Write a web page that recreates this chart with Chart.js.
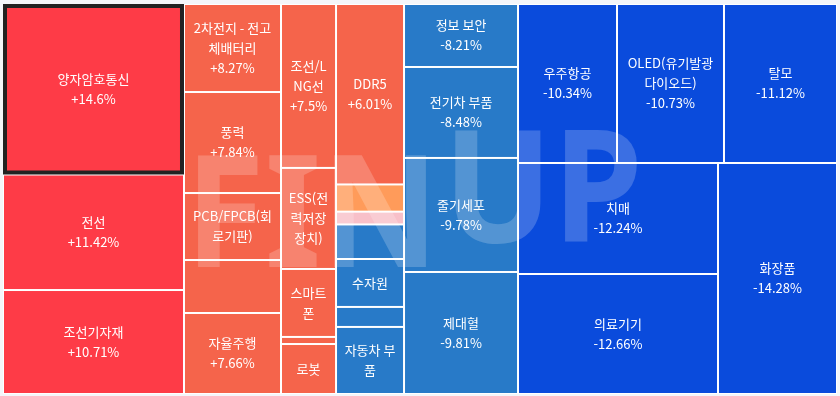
<!DOCTYPE html>
<html lang="ko">
<head>
    <meta charset="UTF-8">
    <script src="https://cdn.jsdelivr.net/npm/chart.js@4.4.1/dist/chart.umd.min.js"></script>
    <style>
        body {
            margin: 0;
            background: #f4f6fa;
        }

        canvas {
            display: block;
        }
    </style>
    <title>Theme Treemap</title>
</head>
<body>
    <canvas id="treemap" width="840" height="396"></canvas>

    <script>
        // themes in the order they were laid out (change descending)
        const names = [
            '양자암호통신', '전선', '조선기자재',
            '2차전지 - 전고체배터리', '풍력', 'PCB/FPCB(회로기판)', '', '자율주행',
            '조선/LNG선', 'ESS(전력저장장치)', '스마트폰', '', '로봇',
            'DDR5', '', '', '', '수자원', '', '자동차 부품',
            '정보 보안', '전기차 부품', '줄기세포', '제대혈',
            '우주항공', 'OLED(유기발광다이오드)', '탈모',
            '치매', '의료기기', '화장품'
        ];
        // % change; hidden ones are estimates
        const changes = [
            14.6, 11.42, 10.71,
            8.27, 7.84, 7.7, 7.68, 7.66,
            7.5, 7.3, 6.9, 6.5, 6.2,
            6.01, 4.2, 1.1, -5.5, -6.3, -7.0, -7.8,
            -8.21, -8.48, -9.78, -9.81,
            -10.34, -10.73, -11.12,
            -12.24, -12.66, -14.28
        ];
        // cell weights
        const sizes = [
            308.6, 209.1, 188.2,
            85.4, 98.0, 65.0, 51.4, 78.6,
            90.2, 55.6, 37.4, 3.9, 27.5,
            122.7, 18.5, 8.7, 23.5, 32.6, 13.6, 45.6,
            71.8, 103.7, 130.0, 139.1,
            157.4, 170.1, 179.7,
            222.0, 240.0, 274.9
        ];
        const highlighted = 0;

        function colorFor(v) {
            if (v >= 10) return '#fe3b47';
            if (v >= 5) return '#f5644b';
            if (v >= 2) return '#ff9b5a';
            if (v >= 0) return '#f8c0c9';
            if (v > -10) return '#287ac8';
            return '#0a4bdc';
        }

        // same idea as d3 squarify with the golden ratio
        function squarify(vals, x0, y0, x1, y1) {
            const ratio = (1 + Math.sqrt(5)) / 2;
            const out = [];
            const n = vals.length;
            let value = vals.reduce((a, b) => a + b, 0);
            let i0 = 0, i1 = 0;
            while (i0 < n) {
                const dx = x1 - x0, dy = y1 - y0;
                let sum = vals[i1++];
                let minV = sum, maxV = sum;
                const alpha = Math.max(dy / dx, dx / dy) / (value * ratio);
                let beta = sum * sum * alpha;
                let minRatio = Math.max(maxV / beta, beta / minV);
                for (; i1 < n; ++i1) {
                    const v = vals[i1];
                    sum += v;
                    if (v < minV) minV = v;
                    if (v > maxV) maxV = v;
                    beta = sum * sum * alpha;
                    const r = Math.max(maxV / beta, beta / minV);
                    if (r > minRatio) { sum -= v; break; }
                    minRatio = r;
                }
                if (dx < dy) {
                    const h = dy * sum / value;
                    let x = x0;
                    for (let i = i0; i < i1; i++) {
                        const w = dx * vals[i] / sum;
                        out[i] = [x, y0, x + w, y0 + h];
                        x += w;
                    }
                    y0 += h;
                } else {
                    const w = dx * sum / value;
                    let y = y0;
                    for (let i = i0; i < i1; i++) {
                        const h = dy * vals[i] / sum;
                        out[i] = [x0, y, x0 + w, y + h];
                        y += h;
                    }
                    x0 += w;
                }
                value -= sum;
                i0 = i1;
            }
            return out;
        }

        function wrapText(ctx, text, maxWidth) {
            const lines = [];
            let line = '';
            for (const ch of text) {
                const test = line + ch;
                if (line && ctx.measureText(test).width > maxWidth) {
                    lines.push(line);
                    line = ch === ' ' ? '' : ch;
                } else {
                    line = test;
                }
            }
            if (line) lines.push(line);
            return lines;
        }

        function drawMark(ctx, text, x, y) {
            ctx.save();
            ctx.translate(x, y);
            ctx.scale(0.93, 1);
            ctx.fillText(text, 0, 0);
            ctx.restore();
        }

        const treemapPlugin = {
            id: 'treemap',
            beforeDatasetsDraw(chart) {
                const ctx = chart.ctx;
                const area = chart.chartArea;
                const xs = chart.scales.x;
                const ys = chart.scales.y;
                const aspect = area.width / area.height;
                const rects = squarify(sizes, 0, 0, aspect, 1);

                ctx.save();
                ctx.fillStyle = '#ffffff';
                ctx.fillRect(area.left, area.top, area.width, area.height);

                const boxes = rects.map(r => ({
                    x0: xs.getPixelForValue(r[0] / aspect),
                    y0: ys.getPixelForValue(r[1]),
                    x1: xs.getPixelForValue(r[2] / aspect),
                    y1: ys.getPixelForValue(r[3])
                }));

                boxes.forEach((b, i) => {
                    ctx.fillStyle = colorFor(changes[i]);
                    ctx.fillRect(b.x0 + 1, b.y0 + 1, b.x1 - b.x0 - 2, b.y1 - b.y0 - 2);
                });

                // watermark: FIN low, UP raised
                ctx.fillStyle = 'rgba(255, 255, 255, 0.2)';
                ctx.font = 'bold 156px "Noto Sans"';
                ctx.textAlign = 'left';
                ctx.textBaseline = 'alphabetic';
                drawMark(ctx, 'FIN', 185, 267);
                drawMark(ctx, 'UP', 443, 242);

                const hb = boxes[highlighted];
                ctx.strokeStyle = '#222222';
                ctx.lineWidth = 4;
                ctx.strokeRect(hb.x0 + 2, hb.y0 + 2, hb.x1 - hb.x0 - 4, hb.y1 - hb.y0 - 4);

                ctx.font = '13px "Noto Sans CJK KR"';
                ctx.fillStyle = '#ffffff';
                ctx.textAlign = 'center';
                ctx.textBaseline = 'middle';
                const lineH = 20;
                boxes.forEach((b, i) => {
                    if (!names[i]) return;
                    const w = b.x1 - b.x0 - 2;
                    const h = b.y1 - b.y0 - 2;
                    const sign = changes[i] > 0 ? '+' : '';
                    const lines = wrapText(ctx, names[i], w - 8);
                    lines.push(sign + changes[i] + '%');
                    const fit = Math.floor((h - 20) / lineH);
                    const shown = lines.slice(0, Math.max(0, fit));
                    const cx = (b.x0 + b.x1) / 2;
                    const cy = (b.y0 + b.y1) / 2;
                    shown.forEach((t, k) => {
                        ctx.fillText(t, cx, cy + (k - (shown.length - 1) / 2) * lineH);
                    });
                });
                ctx.restore();
            }
        };

        new Chart(document.getElementById('treemap').getContext('2d'), {
            type: 'scatter',
            data: { datasets: [{ data: [] }] },
            options: {
                responsive: false,
                animation: false,
                layout: { padding: { left: 3, right: 3, top: 4, bottom: 2 } },
                plugins: { legend: { display: false }, tooltip: { enabled: false } },
                scales: {
                    x: { display: false, min: 0, max: 1 },
                    y: { display: false, min: 0, max: 1, reverse: true }
                }
            },
            plugins: [treemapPlugin]
        });
    </script>
</body>
</html>
